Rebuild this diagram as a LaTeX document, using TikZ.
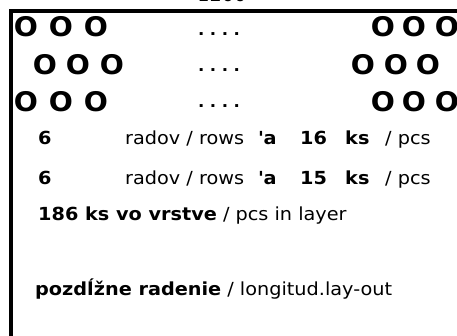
\documentclass[tikz,border=0pt]{standalone}
\usepackage{fontspec}
\setmainfont{DejaVu Sans}
\newfontfamily\labelfont[FakeStretch=1.07]{DejaVu Sans}
\newfontfamily\ringfont[FakeStretch=1.05]{DejaVu Sans}

\begin{document}
\begin{tikzpicture}[x=1pt, y=1pt,
  ring/.style={font=\ringfont\fontsize{27}{27}\selectfont\bfseries, inner sep=0pt},
  dotrow/.style={font=\labelfont\fontsize{15.5}{16}\selectfont\bfseries, inner sep=0pt, anchor=base},
  txt/.style={font=\labelfont\fontsize{18}{19}\selectfont, inner sep=0pt, anchor=base west},
  txtb/.style={txt, font=\labelfont\fontsize{18}{19}\selectfont\bfseries},
  frame/.style={line width=4pt}
]
  \useasboundingbox (0,0) rectangle (457,335);
  \clip (0,0) rectangle (457,335);

  % cut-off width label
  \node[txt, anchor=base] (width) at (222,333.5) {1200};

  % frame
  \draw[frame] (10.5,-2) -- (10.5,324) -- (462,324);

  % rows of rings
  \foreach \x [count=\i] in {26,61,96,383,414,447}
    \node[ring] (ra\i) at (\x,308) {O};
  \foreach \x [count=\i] in {45,78,112,363,396,428}
    \node[ring] (rb\i) at (\x,270) {O};
  \foreach \x [count=\i] in {26,61,96,383,414,447}
    \node[ring] (rc\i) at (\x,233) {O};

  % dots
  \node[dotrow] (da) at (219,299) {.\hspace{5.5pt}.\hspace{5.5pt}.\hspace{5.5pt}.};
  \node[dotrow] (db) at (219,263) {.\hspace{5.5pt}.\hspace{5.5pt}.\hspace{5.5pt}.};
  \node[dotrow] (dc) at (219,227) {.\hspace{5.5pt}.\hspace{5.5pt}.\hspace{5.5pt}.};

  % first row count
  \node[txtb] (na) at (38,190) {6};
  \node[txt] (ra) at (125,190) {radov / rows};
  \node[txtb] (aa) at (258,190) {\textquotesingle a};
  \node[txtb] (ca) at (300,190) {16};
  \node[txtb] (ka) at (345,190) {ks};
  \node[txt] (pa) at (385,190) {/ pcs};

  % second row count
  \node[txtb] (nb) at (38,151) {6};
  \node[txt] (rb) at (125,151) {radov / rows};
  \node[txtb] (ab) at (258,151) {\textquotesingle a};
  \node[txtb] (cb) at (300,151) {15};
  \node[txtb] (kb) at (345,151) {ks};
  \node[txt] (pb) at (385,151) {/ pcs};

  % totals
  \node[txt] (total) at (38,115) {\bfseries 186 ks vo vrstve\mdseries{} / pcs in layer};
  \node[txt] (layout) at (35,40) {\bfseries pozdĺžne radenie\mdseries{} / longitud.lay-out};
\end{tikzpicture}
\end{document}
